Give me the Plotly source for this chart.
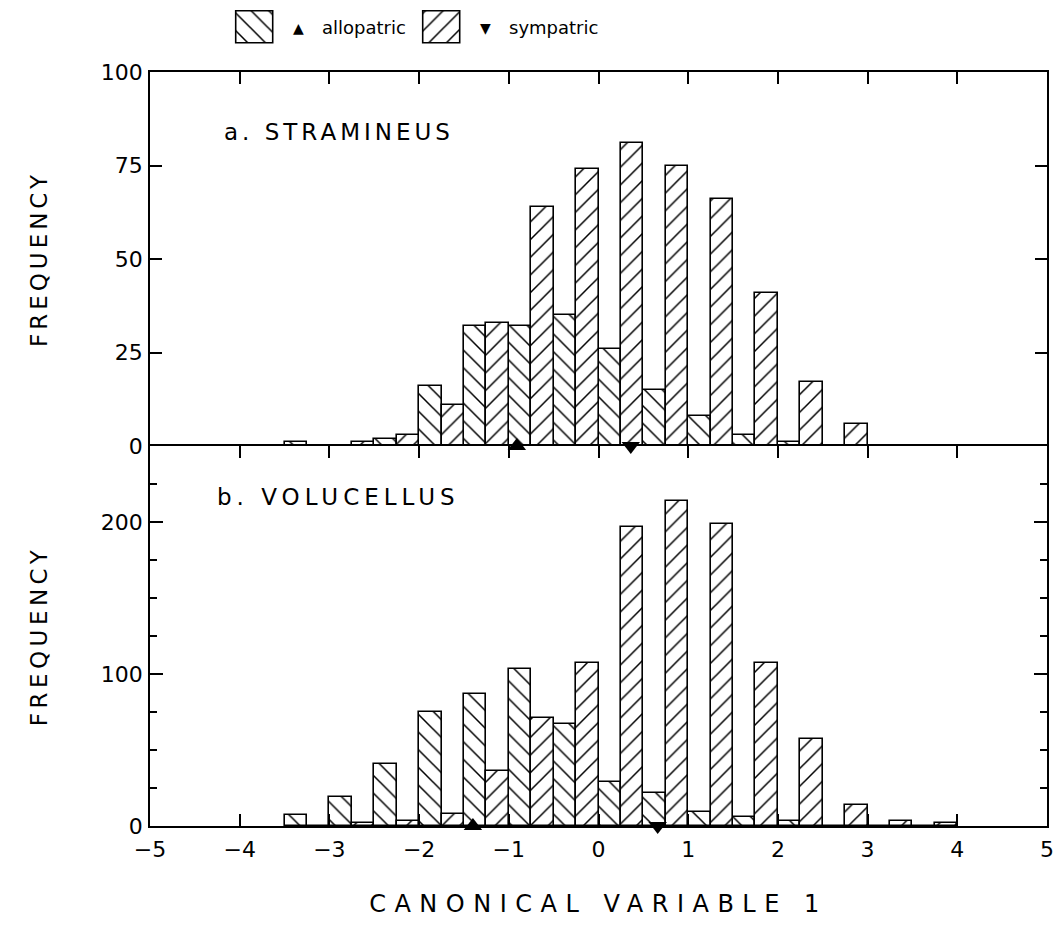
import plotly.graph_objects as go

# Histogram bins on canonical variable 1 (left edge of each 0.5-wide bin)
bin_left = [-3.5, -3.0, -2.5, -2.0, -1.5, -1.0, -0.5, 0.0, 0.5, 1.0, 1.5, 2.0, 2.5, 3.0, 3.5]

# a. STRAMINEUS frequencies
stram_allo = [1, 0, 2, 16, 32, 32, 35, 26, 15, 8, 3, 1, 0, 0, 0]
stram_sym = [0, 1, 3, 11, 33, 64, 74, 81, 75, 66, 41, 17, 6, 0, 0]

# b. VOLUCELLUS frequencies
voluc_allo = [7, 19, 41, 75, 87, 103, 67, 29, 22, 9, 6, 3, 0, 0, 0]
voluc_sym = [0, 2, 3, 8, 36, 71, 107, 197, 214, 199, 107, 57, 14, 3, 2]

# group means (triangles on the baseline)
stram_mean_allo = -0.91
stram_mean_sym = 0.36
voluc_mean_allo = -1.40
voluc_mean_sym = 0.66

groups = ["allopatric", "sympatric"]
hatches = ["\\", "/"]

x_ticks = [-5, -4, -3, -2, -1, 0, 1, 2, 3, 4, 5]
top_y_ticks = [0, 25, 50, 75, 100]
bot_y_ticks = [0, 100, 200]

bin_centers = [b + 0.25 for b in bin_left]

W, H = 1058, 934
ML, MR, MT, MB = 150, 11, 6, 108
PW = W - ML - MR
PH = H - MT - MB


def ydom(top_px, bot_px):
    return [(H - MB - bot_px) / PH, (H - MB - top_px) / PH]


def xdom(left_px, right_px):
    return [(left_px - ML) / PW, (right_px - ML) / PW]


def spaced(text, px):
    # widen the tracking of a label
    return f'<span style="letter-spacing:{px}px">{text}</span>'


FONT = "DejaVu Sans, Verdana, sans-serif"
LINE_W = 1.5
HATCH = dict(fgcolor="black", bgcolor="white", fgopacity=1, size=12.5, solidity=0.12,
             fillmode="overlay")


def hatched(shape):
    return dict(color="white", line=dict(color="black", width=1.6),
                pattern=dict(HATCH, shape=shape))


fig = go.Figure()

panels = [
    ("x", "y", stram_allo, stram_sym, stram_mean_allo, stram_mean_sym),
    ("x2", "y2", voluc_allo, voluc_sym, voluc_mean_allo, voluc_mean_sym),
]
for xa, ya, allo, sym, m_allo, m_sym in panels:
    fig.add_trace(go.Bar(x=bin_centers, y=allo, xaxis=xa, yaxis=ya,
                         name=groups[0], marker=hatched(hatches[0]),
                         showlegend=False))
    fig.add_trace(go.Bar(x=bin_centers, y=sym, xaxis=xa, yaxis=ya,
                         name=groups[1], marker=hatched(hatches[1]),
                         showlegend=False))
    fig.add_trace(go.Scatter(x=[m_allo], y=[0], xaxis=xa, yaxis=ya, mode="markers",
                             marker=dict(symbol="triangle-up", size=16, color="black"),
                             cliponaxis=False, showlegend=False))
    fig.add_trace(go.Scatter(x=[m_sym], y=[0], xaxis=xa, yaxis=ya, mode="markers",
                             marker=dict(symbol="triangle-down", size=16, color="black"),
                             cliponaxis=False, showlegend=False))

# key swatches above the panels
fig.add_trace(go.Bar(x=groups, y=[1, 1], xaxis="x3", yaxis="y3", width=0.2,
                     marker=dict(color="white", line=dict(color="black", width=1.6),
                                 pattern=dict(HATCH, shape=hatches)),
                     cliponaxis=False, showlegend=False))

TICKFONT = dict(family=FONT, size=22, color="black")
TITLEFONT = dict(family=FONT, size=23, color="black")

axis_common = dict(showline=True, linecolor="black", linewidth=LINE_W, automargin=False,
                   showgrid=False, zeroline=False, tickcolor="black", tickwidth=LINE_W,
                   tickfont=TICKFONT)

fig.update_layout(
    width=W, height=H,
    margin=dict(l=ML, r=MR, t=MT, b=MB, autoexpand=False),
    paper_bgcolor="white", plot_bgcolor="white",
    barmode="group", bargap=0, bargroupgap=0,
    font=dict(family=FONT, color="black"),
    xaxis=dict(axis_common, domain=[0, 1], anchor="y", range=[-5, 5], matches="x2",
               side="top", tickvals=x_ticks, ticks="inside", ticklen=12,
               mirror=False, showticklabels=False),
    yaxis=dict(axis_common, domain=ydom(72, 446), anchor="x", range=[0, 100],
               tickvals=top_y_ticks, ticks="inside", ticklen=12, mirror="ticks",
               ticklabelstandoff=1,
               title=dict(text=spaced("FREQUENCY", 4), font=TITLEFONT, standoff=47)),
    xaxis2=dict(axis_common, domain=[0, 1], anchor="y2", range=[-5, 5],
                tickvals=x_ticks, ticks="inside", ticklen=12, mirror="ticks",
                ticklabelstandoff=3,
                title=dict(text=spaced("CANONICAL VARIABLE 1", 8.5),
                           font=dict(TITLEFONT, size=24), standoff=34)),
    yaxis2=dict(axis_common, domain=ydom(446, 826), anchor="x2", range=[0, 250],
                tickvals=bot_y_ticks, ticks="inside", ticklen=13, mirror="ticks",
                minor=dict(dtick=25, ticks="inside", ticklen=7, tickcolor="black",
                           tickwidth=LINE_W, showgrid=False),
                ticklabelstandoff=1,
                title=dict(text=spaced("FREQUENCY", 4.5), font=TITLEFONT, standoff=47)),
    xaxis3=dict(domain=xdom(161.5, 535.5), anchor="y3", type="category",
                range=[-0.5, 1.5], visible=False, fixedrange=True),
    yaxis3=dict(domain=ydom(9.5, 45.5), anchor="x3", range=[-0.08, 1.08], visible=False,
                fixedrange=True),
)

annotations = [
    dict(text=spaced("a. STRAMINEUS", 4), xref="x domain", yref="y domain", x=0.08, y=0.84,
         xanchor="left", yanchor="middle", showarrow=False,
         font=dict(family=FONT, size=23, color="black")),
    dict(text=spaced("b. VOLUCELLUS", 5), xref="x2 domain", yref="y2 domain", x=0.072,
         y=0.866, xanchor="left", yanchor="middle", showarrow=False,
         font=dict(family=FONT, size=23, color="black")),
]
for g, tri in zip(groups, ["▲", "▼"]):
    annotations.append(dict(text=tri, xref="x3", yref="y3 domain", x=g, y=0.5,
                            xshift=43, xanchor="center", yanchor="middle", showarrow=False,
                            font=dict(family=FONT, size=14, color="black")))
    annotations.append(dict(text=g, xref="x3", yref="y3 domain", x=g, y=0.5,
                            xshift=65, xanchor="left", yanchor="middle", showarrow=False,
                            font=dict(family=FONT, size=18, color="black")))
fig.update_layout(annotations=annotations)

fig.write_html("out.html")
